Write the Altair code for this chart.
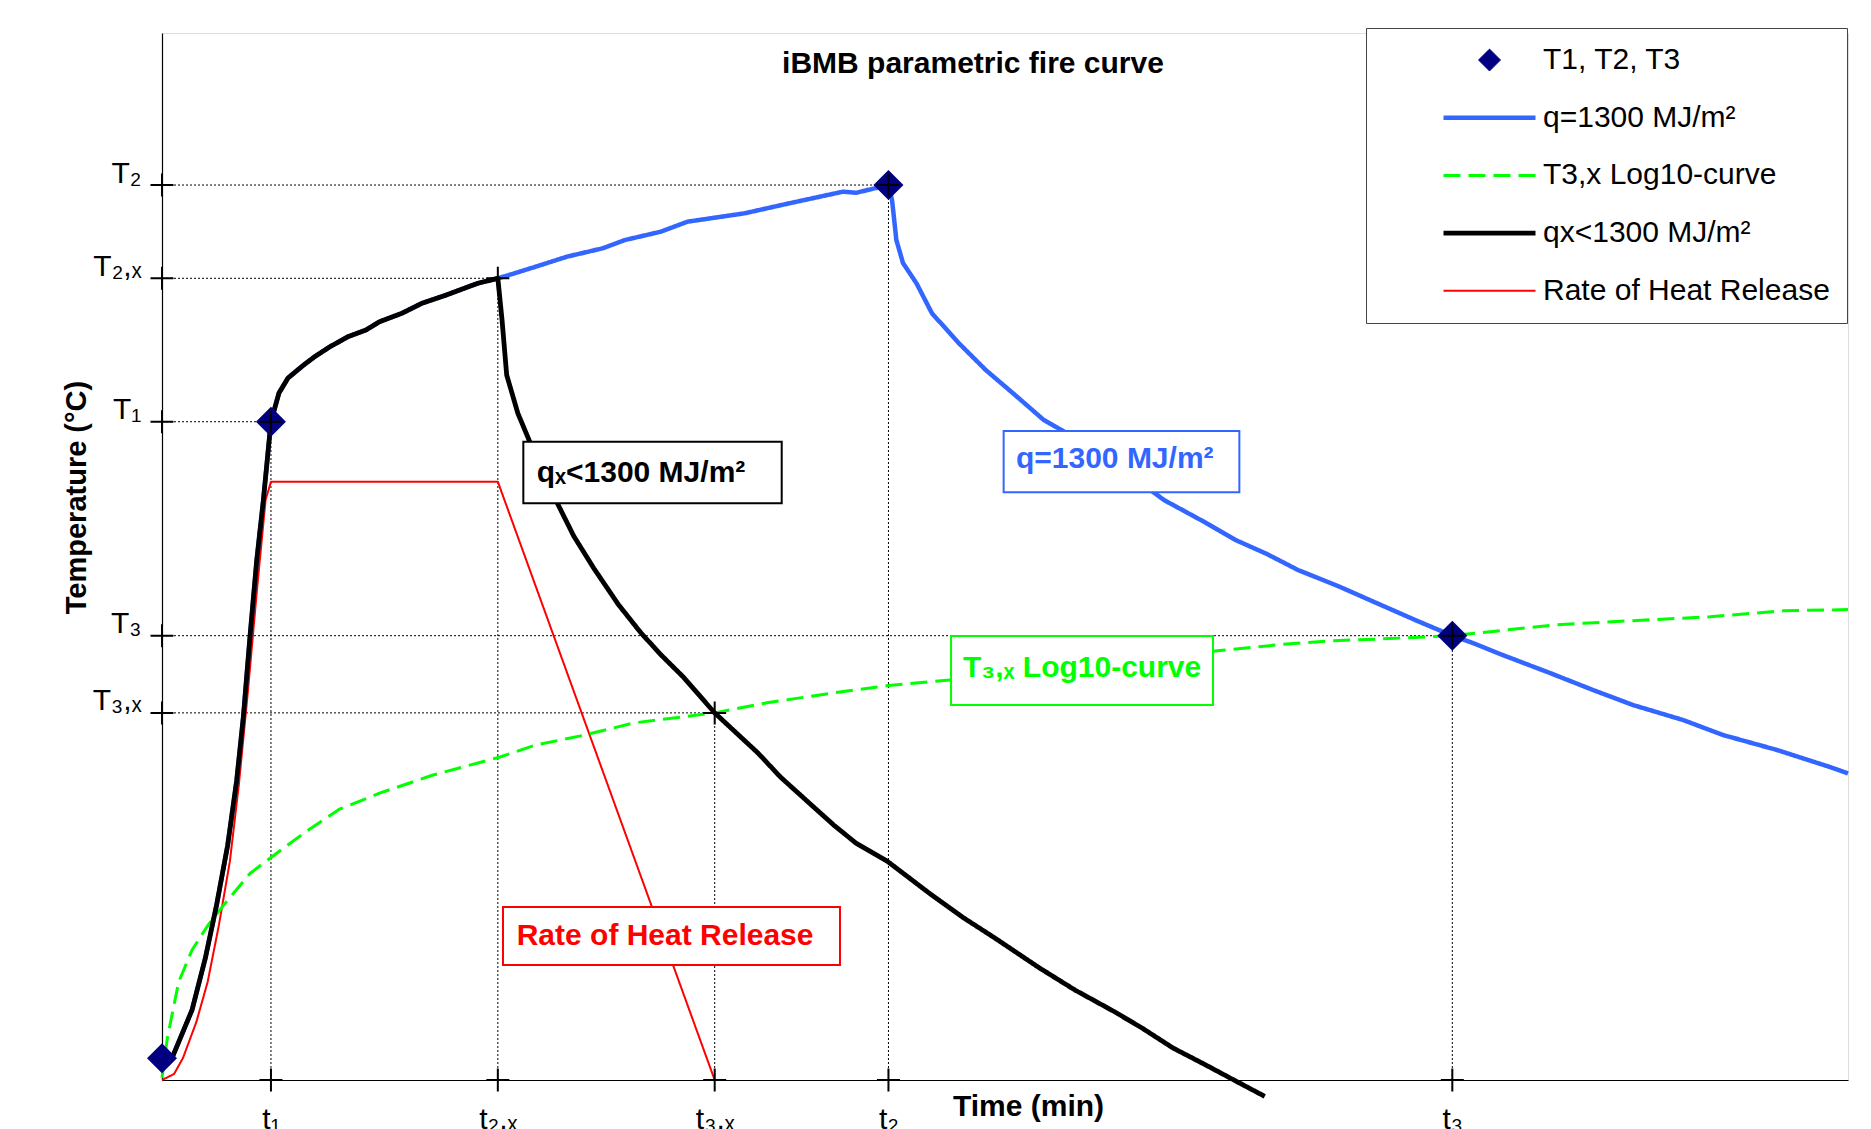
import altair as alt
import pandas as pd

# ---------------- data ----------------
# characteristic times (min) and temperatures (degC): 1, 2x, 3x, 2, 3
t_keys = [10.34, 31.87, 52.45, 68.94, 122.45]
T_keys = [880.2, 1072.0, 490.9, 1196.7, 594.1]
t_key_labels = ["t\u2081", "t\u2082,\u2093", "t\u2083,\u2093", "t\u2082", "t\u2083"]
T_key_labels = ["T\u2081", "T\u2082,\u2093", "T\u2083,\u2093", "T\u2082", "T\u2083"]

# diamonds T1, T2, T3 (plus start point)
pts_t = [0.0, 10.34, 68.94, 122.45]
pts_T = [29.0, 880.2, 1196.7, 594.1]

# heating branch shared by both fire curves
heat_t = [0.0, 0.94, 2.85, 4.12, 5.17, 6.23, 7.08, 7.72, 8.35, 8.99, 9.62, 10.34,
          11.10, 11.96, 13.44, 14.49, 15.94, 17.65, 19.36, 20.64, 22.76, 24.67,
          26.99, 28.26, 29.96, 31.87]
heat_T = [29.0, 29.0, 93.6, 163.4, 233.2, 313.7, 399.7, 485.5, 593.0, 695.0, 775.5, 880.2,
          918.6, 938.7, 956.0, 967.2, 980.5, 993.9, 1002.9, 1013.9, 1025.2, 1038.6,
          1049.7, 1056.4, 1065.3, 1072.0]

# qx < 1300 MJ/m2 : cooling branch
qx_t = [32.27, 32.71, 33.77, 34.83, 35.97, 37.37, 39.07, 40.98, 43.30, 45.42, 47.33,
        49.44, 52.45, 56.56, 58.69, 61.44, 63.77, 65.89, 68.85, 72.87, 76.05, 79.01,
        83.26, 86.64, 90.44, 93.00, 95.94, 98.93, 101.89, 104.65]
qx_T = [1016.2, 942.7, 891.5, 855.8, 815.6, 775.5, 727.4, 684.2, 636.0, 598.4, 568.8,
        539.3, 490.9, 437.2, 405.1, 370.1, 340.6, 316.4, 292.3, 249.2, 217.0, 190.1,
        149.9, 120.3, 90.9, 69.5, 42.8, 21.0, -1.3, -21.9]

# q = 1300 MJ/m2 : continued heating and cooling
q_t = [32.93, 35.46, 38.43, 41.82, 43.94, 47.33, 49.87, 55.29, 59.53, 64.62, 65.89,
       68.94, 69.28, 69.69, 70.32, 71.60, 73.07, 75.63, 78.17, 81.14, 83.68, 85.37,
       89.96, 95.09, 98.93, 101.89, 104.86, 107.81, 111.60, 115.87, 119.07, 122.45,
       124.41, 126.98, 131.72, 135.80, 139.60, 144.34, 148.14, 153.26, 158.29, 160.0]
q_T = [1076.4, 1087.5, 1100.9, 1112.1, 1123.2, 1134.3, 1147.7, 1158.9, 1172.3, 1187.8,
       1186.4, 1196.7, 1176.7, 1123.2, 1092.4, 1065.3, 1025.2, 985.1, 949.4, 913.7,
       882.5, 869.1, 829.0, 775.5, 746.1, 722.0, 703.3, 681.9, 660.5, 634.0, 614.2,
       594.1, 584.3, 569.6, 544.2, 521.5, 501.4, 481.4, 461.3, 441.3, 418.5, 410.0]

# T3,x Log10-curve
log_t = [0.0, 0.51, 1.58, 2.85, 4.33, 5.81, 8.35, 10.34, 13.44, 16.83, 20.64, 25.72,
         32.08, 35.46, 40.12, 44.79, 52.45, 57.41, 63.77, 68.94, 74.78, 100.40, 106.10,
         111.22, 116.50, 122.45, 126.03, 132.36, 139.60, 146.91, 153.86, 160.0]
log_T = [3.0, 56.2, 131.0, 173.8, 206.3, 233.2, 276.1, 297.6, 329.9, 362.1, 383.5, 407.8,
         431.9, 447.9, 461.3, 477.5, 490.9, 504.4, 517.7, 527.5, 534.8, 574.2, 582.2,
         587.5, 590.2, 594.1, 599.5, 608.8, 614.2, 619.4, 627.4, 629.0]

# Rate of heat release (drawn on the temperature scale)
rhr_t = [0.0, 1.14, 1.99, 3.26, 4.33, 5.39, 6.44, 7.29, 8.14, 8.99, 9.83, 10.34, 31.87, 52.45]
rhr_T = [0.0, 8.0, 29.4, 77.6, 131.0, 206.3, 292.3, 394.4, 517.7, 652.0, 775.5, 800.0, 800.0, 0.0]

# series names (legend)
S_PTS = "T1, T2, T3"
S_Q = "q=1300 MJ/m\u00b2"
S_LOG = "T3,x Log10-curve"
S_QX = "qx<1300 MJ/m\u00b2"
S_RHR = "Rate of Heat Release"
series_order = [S_PTS, S_Q, S_LOG, S_QX, S_RHR]
series_colors = ["#000080", "#3366FF", "#00FF00", "#000000", "#FF0000"]

# annotation boxes
ann_text = ["q\u2093<1300 MJ/m\u00b2", "q=1300 MJ/m\u00b2", "T\u2083,\u2093 Log10-curve", "Rate of Heat Release"]
ann_color = ["#000000", "#3366FF", "#00FF00", "#FF0000"]
ann_text_t = [35.56, 81.04, 76.01, 33.66]
ann_text_T = [800.0, 818.3, 538.9, 180.5]
ann_box_t1 = [34.29, 79.87, 74.88, 32.36]
ann_box_t2 = [58.81, 102.24, 99.74, 64.34]
ann_box_T1 = [771.1, 785.8, 501.4, 153.8]
ann_box_T2 = [853.5, 867.8, 593.7, 231.3]

# ---------------- tables ----------------
def series_df(name, ts, Ts):
    return pd.DataFrame({"series": name, "t": ts, "T": Ts, "i": range(len(ts))})

lines = {
    S_RHR: series_df(S_RHR, rhr_t, rhr_T),
    S_LOG: series_df(S_LOG, log_t, log_T),
    S_Q: series_df(S_Q, heat_t + q_t, heat_T + q_T),
    S_QX: series_df(S_QX, heat_t + qx_t, heat_T + qx_T),
}
pts_df = pd.DataFrame({"series": S_PTS, "t": pts_t, "T": pts_T})
keys_df = pd.DataFrame({"t": t_keys, "T": T_keys, "zero": 0.0})
cross_df = pd.concat([
    pd.DataFrame({"t": t_keys, "T": T_keys}),
    pd.DataFrame({"t": t_keys, "T": [0.0] * len(t_keys)}),
    pd.DataFrame({"t": [0.0] * len(T_keys), "T": T_keys}),
], ignore_index=True)

# ---------------- scales / axes ----------------
FONT = "Liberation Sans"
xs = alt.Scale(domain=[0, 160], nice=False, zero=False)
ys = alt.Scale(domain=[0, 1400], nice=False, zero=False)


def lab_expr(vals, labs):
    arr = "[" + ",".join("'" + l + "'" for l in labs) + "]"
    v = "[" + ",".join(repr(x) for x in vals) + "]"
    return arr + "[indexof(" + v + ", datum.value)]"


xaxis = alt.Axis(
    title="Time (min)", values=t_keys, labelExpr=lab_expr(t_keys, t_key_labels),
    ticks=False, tickSize=0, grid=False, domainColor="black", domainWidth=1.2,
    labelFont=FONT, labelFontSize=30, labelColor="black", labelPadding=24,
    labelBaseline="top", labelFlush=False, labelOverlap=False, labelBound=False,
    titleFont=FONT, titleFontSize=30, titleFontWeight="bold", titleColor="black",
    titleX=866, titleY=35, titleBaseline="alphabetic", titleAlign="center",
)
yaxis = alt.Axis(
    title="Temperature (\u00b0C)", values=T_keys, labelExpr=lab_expr(T_keys, T_key_labels),
    ticks=False, tickSize=0, grid=False, domainColor="black", domainWidth=1.2,
    labelFont=FONT, labelFontSize=30, labelColor="black", labelPadding=21,
    labelBaseline="alphabetic", labelOffset=-3, labelFlush=False, labelOverlap=False,
    labelBound=False,
    titleFont=FONT, titleFontSize=29, titleFontWeight="bold", titleColor="black",
    titleX=-77, titleY=464, titleAngle=270, titleBaseline="alphabetic", titleAlign="center",
)

X = lambda f: alt.X(f, type="quantitative", scale=xs, axis=xaxis)
Y = lambda f: alt.Y(f, type="quantitative", scale=ys, axis=yaxis)

leg = alt.Legend(
    title=None, orient="none", legendX=1204, legendY=-5, direction="vertical", columns=1,
    padding=17, rowPadding=27.7, clipHeight=30, symbolOffset=58, labelOffset=5,
    labelFont=FONT, labelFontSize=30, labelColor="black", labelLimit=600,
    strokeColor="#444444", fillColor="white", cornerRadius=0,
)
color_scale = alt.Scale(domain=series_order, range=series_colors)
shape_scale = alt.Scale(domain=series_order, range=["diamond", "stroke", "stroke", "stroke", "stroke"])
dash_scale = alt.Scale(domain=series_order, range=[[1, 0], [1, 0], [17, 8], [1, 0], [1, 0]])
sw_scale = alt.Scale(type="ordinal", domain=series_order, range=[1, 4.5, 3, 4.8, 2])
size_scale = alt.Scale(type="ordinal", domain=series_order, range=[484, 8464, 8464, 8464, 8464])

# ---------------- layers ----------------
layers = []

# dotted guide lines
layers.append(alt.Chart(keys_df).mark_rule(color="black", strokeWidth=1, strokeDash=[2, 2]).encode(
    x=X("zero"), x2="t:Q", y=Y("T")))
layers.append(alt.Chart(keys_df).mark_rule(color="black", strokeWidth=1, strokeDash=[2, 2]).encode(
    x=X("t"), y=Y("zero"), y2="T:Q"))

# curves
for name in [S_RHR, S_LOG, S_Q, S_QX]:
    layers.append(alt.Chart(lines[name]).mark_line(strokeJoin="round").encode(
        x=X("t"), y=Y("T"),
        color=alt.Color("series:N", scale=color_scale, legend=leg),
        strokeDash=alt.StrokeDash("series:N", scale=dash_scale, legend=leg),
        strokeWidth=alt.StrokeWidth("series:N", scale=sw_scale, legend=leg),
        order="i:Q",
    ))

# annotation boxes
for k in range(len(ann_text)):
    box = pd.DataFrame({"t1": [ann_box_t1[k]], "t2": [ann_box_t2[k]],
                        "T1": [ann_box_T1[k]], "T2": [ann_box_T2[k]]})
    txt = pd.DataFrame({"t": [ann_text_t[k]], "T": [ann_text_T[k]], "label": [ann_text[k]]})
    layers.append(alt.Chart(box).mark_rect(fill="white", stroke=ann_color[k], strokeWidth=2).encode(
        x=X("t1"), x2="t2:Q", y=Y("T1"), y2="T2:Q"))
    layers.append(alt.Chart(txt).mark_text(
        align="left", baseline="alphabetic", font=FONT, fontSize=30, fontWeight="bold",
        color=ann_color[k]).encode(x=X("t"), y=Y("T"), text="label:N"))

# diamonds (legend-carrying layer, then full-size diamonds on top)
layers.append(alt.Chart(pts_df).mark_point(filled=True, opacity=1).encode(
    x=X("t"), y=Y("T"),
    color=alt.Color("series:N", scale=color_scale, legend=leg),
    shape=alt.Shape("series:N", scale=shape_scale, legend=leg),
    size=alt.Size("series:N", scale=size_scale, legend=leg),
))
layers.append(alt.Chart(pts_df).mark_point(
    shape="diamond", filled=True, size=900, color="#000080", opacity=1).encode(x=X("t"), y=Y("T")))

# "+" markers on axes and characteristic points
layers.append(alt.Chart(cross_df).mark_point(
    shape="M-1,0L1,0M0,-1L0,1", filled=False, size=529, color="black", strokeWidth=2,
    opacity=1).encode(x=X("t"), y=Y("T")))

chart = alt.layer(*layers).properties(
    width=1686, height=1047,
    title=alt.TitleParams(
        text="iBMB parametric fire curve", font=FONT, fontSize=30, fontWeight="bold",
        color="black", anchor="middle", frame="group", offset=-35, dx=-32, dy=40,
        baseline="alphabetic"),
    autosize=alt.AutoSizeParams(type="none"),
    padding={"left": 154, "top": 25, "right": 7, "bottom": 49},
).configure_view(stroke=None).configure(background="white")

chart.save("out.html", embed_options={"renderer": "svg", "actions": False})
